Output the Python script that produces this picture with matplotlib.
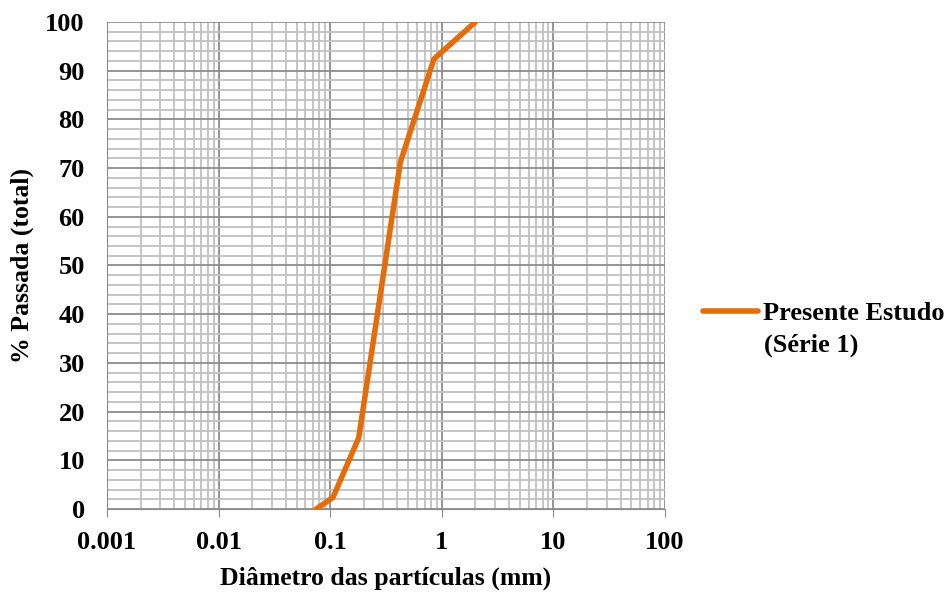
import matplotlib.pyplot as plt
import numpy as np
from matplotlib.ticker import LogLocator, FixedLocator, FuncFormatter

# dados
diametro = [0.075, 0.106, 0.18, 0.425, 0.85, 2.0]
passada = [0.0, 2.4, 14.6, 71.2, 92.4, 100.0]

xticks = [0.001, 0.01, 0.1, 1, 10, 100]
xtick_labels = ['0.001', '0.01', '0.1', '1', '10', '100']
yticks = list(range(0, 101, 10))

plt.rcParams['font.family'] = ['Liberation Serif', 'DejaVu Serif']
plt.rcParams['font.weight'] = 'bold'
fs = 19

fig = plt.figure(figsize=(9.48, 5.94), dpi=100)
ax = fig.add_axes([0.1129, 0.1431, 0.5886, 0.8199])

ax.plot(diametro, passada, color='#E46C0A', lw=4, solid_capstyle='round',
        label='Presente Estudo', zorder=3)

ax.set_xscale('log')
ax.set_xlim(0.001, 100)
ax.set_ylim(0, 100)

ax.set_xticks(xticks)
ax.set_xticklabels(xtick_labels)
ax.xaxis.set_minor_locator(LogLocator(base=10, subs=np.arange(2, 10)))
ax.xaxis.set_minor_formatter(FuncFormatter(lambda v, p: ''))
ax.set_yticks(yticks)
ax.yaxis.set_minor_locator(FixedLocator(np.arange(0, 101, 2)))

ax.grid(which='major', color='#8c8c8c', lw=1.3)
ax.grid(which='minor', color='#c0c0c0', lw=1.3)
ax.set_axisbelow(True)

ax.tick_params(axis='x', which='major', direction='out', length=6, color='#8c8c8c',
               labelsize=fs, pad=10)
ax.tick_params(axis='x', which='minor', length=0)
ax.tick_params(axis='y', which='both', length=0, labelsize=fs, pad=16)
for lbl in ax.get_xticklabels() + ax.get_yticklabels():
    lbl.set_fontweight('bold')

for s in ['top', 'right']:
    ax.spines[s].set_visible(False)
ax.spines['left'].set_color('#8c8c8c')
ax.spines['bottom'].set_color('#8c8c8c')

ax.set_xlabel('Diâmetro das partículas (mm)', fontsize=18.5, fontweight='bold', labelpad=9)
ax.set_ylabel('% Passada (total)', fontsize=18.5, fontweight='bold', labelpad=8)

leg = fig.legend(loc='center left', bbox_to_anchor=(0.717, 1 - 313 / 594), frameon=False,
                 fontsize=fs, handlelength=2.05, handletextpad=0.2)
for t in leg.get_texts():
    t.set_fontweight('bold')
fig.text(764 / 948, 1 - 345 / 594, '(Série 1)', fontsize=fs, fontweight='bold',
         ha='left', va='center')

fig.savefig('out.png', dpi=100)
